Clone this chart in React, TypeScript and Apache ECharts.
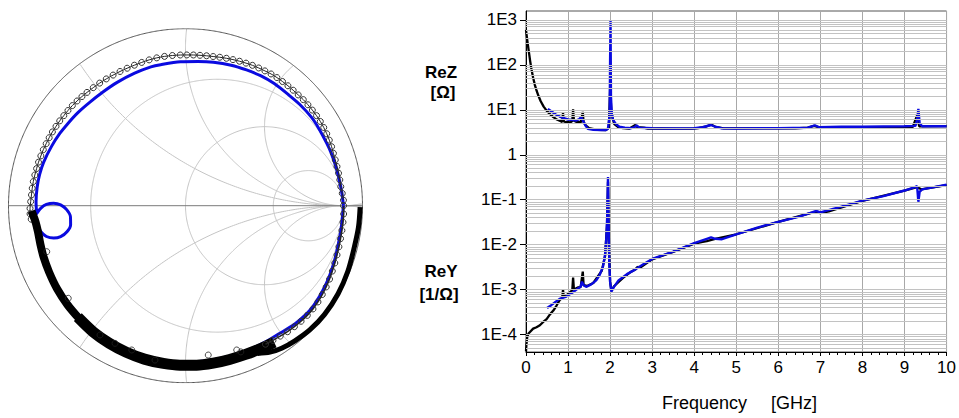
import React, { useEffect, useRef } from "react";
import * as echarts from "echarts";

// ---------------- Right chart data (frequency in GHz, values linear) ----------------
const reZBlackF = [0.0, 0.02, 0.04, 0.07, 0.1, 0.13, 0.17, 0.21, 0.25, 0.3, 0.35, 0.42, 0.49, 0.57, 0.65, 0.72, 0.8, 0.86, 0.88, 0.9, 0.95, 1.0, 1.05, 1.1, 1.12, 1.14, 1.2, 1.26, 1.3, 1.35, 1.37, 1.42, 1.5, 1.7, 1.9, 1.97, 2.0, 2.03, 2.06, 2.1, 2.2, 2.3, 2.45, 2.6, 2.65, 2.8, 2.9, 3.2, 3.6, 3.95, 4.1, 4.3, 4.4, 4.5, 4.7, 5.5, 6.4, 6.7, 6.85, 7.0, 7.5, 7.6, 8.2, 8.45, 8.75, 9.2, 9.3, 9.35, 10.0];
const reZBlackV = [600, 420, 300, 190, 120, 80, 52, 36, 27, 20, 15.5, 11.8, 9.6, 8.0, 6.9, 6.2, 5.7, 5.4, 8.6, 5.5, 5.3, 5.4, 5.2, 5.6, 10.3, 5.7, 5.4, 5.3, 5.2, 9.0, 5.3, 4.5, 3.9, 3.6, 3.55, 4.0, 30, 9.0, 6.5, 4.8, 4.1, 3.9, 3.8, 4.6, 4.1, 4.0, 3.8, 3.85, 3.8, 3.8, 3.9, 4.3, 4.7, 4.2, 3.85, 3.85, 3.85, 4.0, 4.4, 4.0, 4.1, 3.95, 4.05, 3.95, 4.0, 4.2, 7.5, 4.3, 4.35];

const reZBlueF = [0.52, 0.6, 0.7, 0.8, 0.9, 1.0, 1.12, 1.2, 1.27, 1.31, 1.36, 1.42, 1.47, 1.6, 1.8, 1.9, 1.95, 1.99, 2.0, 2.01, 2.02, 2.04, 2.07, 2.14, 2.22, 2.35, 2.5, 2.58, 2.63, 2.7, 3.0, 3.5, 4.0, 4.2, 4.4, 4.5, 4.65, 5.0, 6.0, 6.7, 6.87, 6.97, 7.5, 8.0, 9.0, 9.26, 9.3, 9.33, 9.36, 9.42, 10.0];
const reZBlueV = [10.5, 9.3, 8.0, 7.1, 6.5, 6.1, 5.9, 5.8, 6.2, 7.1, 5.6, 4.4, 3.8, 3.6, 3.55, 3.55, 3.8, 8, 130, 1000, 20, 8.3, 6.0, 4.8, 4.2, 4.0, 3.9, 4.1, 4.5, 4.0, 3.9, 3.85, 3.9, 4.1, 4.6, 4.2, 3.9, 3.85, 3.9, 4.0, 4.5, 4.1, 4.2, 4.2, 4.3, 4.4, 6.0, 10.5, 5.0, 4.3, 4.3];

const reYBlackF = [0.0, 0.01, 0.03, 0.06, 0.1, 0.17, 0.25, 0.33, 0.41, 0.49, 0.57, 0.65, 0.72, 0.8, 0.86, 0.88, 0.9, 0.96, 1.05, 1.1, 1.12, 1.14, 1.22, 1.3, 1.35, 1.37, 1.45, 1.6, 1.8, 1.88, 1.93, 1.95, 1.97, 2.0, 2.03, 2.1, 2.3, 2.5, 2.6, 2.65, 2.7, 3.0, 3.5, 4.0, 4.2, 4.3, 4.5, 5.0, 6.0, 6.85, 7.0, 7.2, 8.0, 9.0, 9.3, 9.4, 10.0];
const reYBlackV = [4.2e-5, 6e-5, 8.9e-5, 1.05e-4, 1.15e-4, 1.35e-4, 1.45e-4, 1.6e-4, 1.9e-4, 2.2e-4, 2.8e-4, 3.4e-4, 4.3e-4, 5.8e-4, 6.5e-4, 1.0e-3, 6.8e-4, 7.4e-4, 8.8e-4, 9.5e-4, 1.85e-3, 1.0e-3, 1.1e-3, 1.15e-3, 2.5e-3, 1.25e-3, 1.2e-3, 1.4e-3, 2.6e-3, 5.5e-3, 3e-2, 0.25, 1e-2, 1.5e-3, 9.5e-4, 1.2e-3, 1.8e-3, 2.5e-3, 2.8e-3, 3.2e-3, 3.0e-3, 4.7e-3, 6.9e-3, 1.05e-2, 1.15e-2, 1.2e-2, 1.35e-2, 1.7e-2, 3.2e-2, 5.3e-2, 5.0e-2, 5.5e-2, 9.4e-2, 0.16, 0.19, 0.17, 0.21];

const reYBlueF = [0.5, 0.6, 0.7, 0.8, 0.96, 1.1, 1.2, 1.3, 1.33, 1.37, 1.43, 1.55, 1.67, 1.75, 1.83, 1.88, 1.91, 1.93, 1.95, 1.96, 1.98, 2.0, 2.03, 2.08, 2.2, 2.4, 2.54, 2.8, 3.0, 3.5, 4.0, 4.3, 4.4, 4.5, 4.66, 5.0, 5.5, 6.0, 6.5, 6.8, 6.9, 7.0, 7.5, 8.0, 8.5, 9.0, 9.25, 9.3, 9.33, 9.36, 9.42, 9.7, 10.0];
const reYBlueV = [3.9e-4, 4.5e-4, 5.3e-4, 6.2e-4, 7.0e-4, 8.5e-4, 1.0e-3, 1.15e-3, 1.5e-3, 1.25e-3, 1.15e-3, 1.3e-3, 1.6e-3, 2.1e-3, 3.2e-3, 6e-3, 1.4e-2, 4e-2, 0.32, 0.05, 4e-3, 1.5e-3, 9e-4, 1.1e-3, 1.6e-3, 2.2e-3, 2.6e-3, 3.7e-3, 4.8e-3, 7.0e-3, 1.08e-2, 1.35e-2, 1.45e-2, 1.35e-2, 1.32e-2, 1.7e-2, 2.4e-2, 3.2e-2, 4.2e-2, 5.2e-2, 5.6e-2, 5.2e-2, 7.0e-2, 9.5e-2, 0.12, 0.16, 0.19, 0.2, 0.09, 0.15, 0.17, 0.19, 0.215];

const xTicks = [0, 1, 2, 3, 4, 5, 6, 7, 8, 9, 10];
const decadeExps = [-4, -3, -2, -1, 0, 1, 2, 3];
const decadeLabels = ["1E-4", "1E-3", "1E-2", "1E-1", "1", "1E1", "1E2", "1E3"];

// ---------------- Smith chart data (angle in degrees, |Gamma|) ----------------
const blackTopArc: [number, number][] = [
  [2, 1.0], [4.5, 0.995], [7, 0.99], [9.5, 0.99], [12, 0.99], [14.5, 0.99], [17, 0.991], [19.5, 0.993], [22, 0.997], [24.5, 1.0],
  [27, 1.003], [29.5, 1.005], [32, 1.006], [34.5, 1.006], [37, 1.005], [39.5, 1.004], [42, 1.003], [44.5, 1.0], [47, 0.999], [49.5, 0.998],
  [52, 0.997], [54.5, 0.996], [57, 0.994], [59.5, 0.99], [62, 0.987], [64.5, 0.984], [67, 0.98], [69.5, 0.976], [72, 0.972], [74.5, 0.968],
  [77, 0.964], [79.5, 0.96], [82, 0.958], [84.5, 0.956], [87, 0.955], [89.5, 0.954], [92, 0.954], [95, 0.954], [98, 0.954], [101, 0.953],
  [104, 0.951], [107, 0.948], [110, 0.946], [113, 0.945], [116, 0.945], [119, 0.945], [122, 0.946], [125, 0.947], [128, 0.948], [131, 0.95],
  [133.5, 0.952], [136, 0.954], [138.5, 0.956], [141, 0.957], [143.5, 0.958], [146, 0.96], [148.5, 0.961], [151, 0.963], [153.5, 0.964], [156, 0.965],
  [158.5, 0.967], [161, 0.968], [163.5, 0.97], [166, 0.971], [168.5, 0.973], [171, 0.975], [173.5, 0.976], [176, 0.977], [178.5, 0.98], [181, 0.984],
  [183, 0.985], [185, 0.98]
];
const blackBandLeft: [number, number][] = [
  [182, 0.975], [186, 0.955], [190, 0.948], [195, 0.95], [200, 0.955], [206, 0.96], [213, 0.968], [220, 0.975], [227, 0.982]
];
const blackBandBottom: [number, number][] = [
  [226, 0.981], [234, 0.99], [241, 0.995], [248, 1.0], [255, 1.005], [262, 1.008], [268, 1.01], [274, 1.012], [280, 1.012], [286, 1.012],
  [292, 1.015], [298, 1.022], [303, 1.03]
];
const blackBandOuter: [number, number][] = [
  [296, 1.04], [300, 1.07], [304, 1.088], [309, 1.1], [315, 1.112], [322, 1.117], [330, 1.115], [338, 1.108], [346, 1.1], [353, 1.103], [359.5, 1.105]
];
const blackInnerRight: [number, number][] = [
  [300, 1.012], [303, 1.016], [306, 1.02], [309, 1.026], [312, 1.03], [315, 1.034], [318, 1.037], [321, 1.038], [324, 1.036], [327, 1.032],
  [330, 1.028], [333, 1.023], [336, 1.017], [339, 1.012], [342, 1.008], [345, 1.005], [348, 1.003], [351, 1.002], [354, 1.002], [357, 1.002], [360, 1.0]
];
const blackOutliers: [number, number][] = [
  [-0.878, -0.291], [-0.742, -0.586], [-0.541, -0.818], [-0.446, -0.871], [-0.34, -0.913], [-0.193, -0.977], [0.144, -0.945], [0.324, -0.913], [0.35, -0.925]
];
const blueTop: [number, number][] = [
  [0, 1.0], [5, 0.992], [10, 0.986], [14.5, 0.983], [20, 0.98], [24, 0.977], [30, 0.975], [35, 0.974], [41.5, 0.966], [47, 0.958],
  [54, 0.955], [60, 0.95], [65.8, 0.942], [72, 0.935], [79, 0.925], [85, 0.916], [92, 0.911], [100, 0.906], [104, 0.905], [111, 0.898],
  [119, 0.892], [126, 0.889], [133, 0.892], [139, 0.9], [145, 0.908], [150, 0.917], [156, 0.927], [163, 0.939], [168, 0.944], [173, 0.946],
  [178.5, 0.946], [183, 0.943]
];
// small resonance loop, Gamma re/im
const blueLoop: [number, number][] = [
  [-0.94, -0.05], [-0.915, -0.015], [-0.88, 0.008], [-0.834, 0.016], [-0.79, 0.005], [-0.752, -0.025], [-0.728, -0.07], [-0.727, -0.12],
  [-0.75, -0.165], [-0.79, -0.196], [-0.834, -0.205], [-0.88, -0.195], [-0.915, -0.165], [-0.937, -0.125], [-0.942, -0.1]
];
const blueBottom: [number, number][] = [
  [188, 0.945], [196, 0.945], [205, 0.952], [214, 0.958], [223, 0.965], [232, 0.972], [241, 0.978], [250, 0.982], [259, 0.986], [268, 0.99],
  [277, 0.99], [286, 0.993], [295, 0.997], [301, 1.0], [306.5, 1.004], [313.5, 1.02], [321.5, 1.028], [331, 1.018], [339, 1.006], [346, 0.997],
  [353, 0.995], [359, 0.998]
];

// Smith grid (chart furniture)
const R_OUT = 1.12;
const rCircles = [0.25, 1, 3.5];
const xArcs = [0.5, 1, 2, -0.5, -1, -2];

const BLUE = "#0a0ae0";
const FONT = "'Liberation Sans', Arial, sans-serif";

function polarPts(list: [number, number][]) {
  return list.map(([a, r]) => [r * Math.cos((a * Math.PI) / 180), r * Math.sin((a * Math.PI) / 180)]);
}

function circleSegments(cx: number, cy: number, rad: number, lim: number) {
  const segs: number[][][] = [];
  let cur: number[][] = [];
  const N = 900;
  for (let i = 0; i <= N; i++) {
    const t = (i / N) * 2 * Math.PI;
    const x = cx + rad * Math.cos(t);
    const y = cy + rad * Math.sin(t);
    if (x * x + y * y <= lim * lim + 1e-6) cur.push([x, y]);
    else {
      if (cur.length > 1) segs.push(cur);
      cur = [];
    }
  }
  if (cur.length > 1) segs.push(cur);
  return segs;
}

function buildOption() {
  const series: any[] = [];
  const gridLine = (data: number[][], color: string, width = 1) => ({
    type: "line",
    xAxisIndex: 0,
    yAxisIndex: 0,
    data,
    showSymbol: false,
    silent: true,
    z: 1,
    lineStyle: { color, width },
  });
  rCircles.forEach((r) => {
    circleSegments(r / (1 + r), 0, 1 / (1 + r), R_OUT).forEach((s) => series.push(gridLine(s, "#c4c4c4")));
  });
  xArcs.forEach((x) => {
    circleSegments(1, 1 / x, Math.abs(1 / x), R_OUT).forEach((s) => series.push(gridLine(s, "#c4c4c4")));
  });
  series.push(gridLine([[-R_OUT, 0], [R_OUT, 0]], "#7a7a7a"));
  series.push(gridLine(circleSegments(0, 0, R_OUT, R_OUT + 0.001)[0], "#555555"));

  const smithLine = (data: number[][], color: string, width: number, z: number, sym = false) => ({
    type: "line",
    xAxisIndex: 0,
    yAxisIndex: 0,
    data,
    silent: true,
    z,
    smooth: 0.3,
    showSymbol: sym,
    symbol: "circle",
    symbolSize: 6,
    itemStyle: { color: "rgba(255,255,255,0)", borderColor: "#333", borderWidth: 1 },
    lineStyle: { color, width },
  });
  series.push(smithLine([...polarPts(blueTop), ...blueLoop, ...polarPts(blueBottom), [1.0, 0]], BLUE, 3, 3));
  series.push(smithLine(polarPts(blackTopArc), "#222", 1, 4, true));
  series.push(smithLine(polarPts(blackBandLeft), "#000", 8, 5));
  series.push(smithLine(polarPts(blackBandBottom), "#000", 11, 5));
  series.push(smithLine(polarPts(blackBandOuter), "#000", 5, 5));
  series.push(smithLine(polarPts(blackInnerRight), "#222", 1.5, 5, true));
  series.push({
    type: "scatter",
    xAxisIndex: 0,
    yAxisIndex: 0,
    data: blackOutliers,
    symbol: "circle",
    symbolSize: 6,
    silent: true,
    z: 5,
    itemStyle: { color: "rgba(255,255,255,0)", borderColor: "#222", borderWidth: 1 },
  });

  // right chart
  const minorVals: number[] = [];
  for (let n = -5; n <= 3; n++) {
    for (let k = 1; k <= 9; k++) {
      const v = n + Math.log10(k);
      if (v > -4.39 && v < 3.2) minorVals.push(v);
    }
  }
  series.push({
    type: "line",
    xAxisIndex: 1,
    yAxisIndex: 1,
    data: [[0, -10]],
    showSymbol: false,
    silent: true,
    z: 1,
    markLine: {
      silent: true,
      symbol: ["none", "none"],
      label: { show: false },
      lineStyle: { color: "#c2c2c2", type: "solid", width: 1 },
      data: minorVals.map((v) => ({ yAxis: v })),
      animation: false,
    },
  });
  const rightLine = (f: number[], v: number[], color: string, width: number, z: number) => ({
    type: "line",
    xAxisIndex: 1,
    yAxisIndex: 1,
    data: f.map((x, i) => [x, Math.log10(v[i])]),
    showSymbol: false,
    silent: true,
    z,
    lineStyle: { color, width },
  });
  series.push(rightLine(reZBlackF, reZBlackV, "#000", 2.3, 3));
  series.push(rightLine(reYBlackF, reYBlackV, "#000", 2.3, 3));
  series.push(rightLine(reZBlueF, reZBlueV, BLUE, 2.4, 4));
  series.push(rightLine(reYBlueF, reYBlueV, BLUE, 2.4, 4));

  const label = (text: string, x: number, y: number, size: number, bold = true) => ({
    type: "text",
    x,
    y,
    silent: true,
    style: {
      text,
      font: `${bold ? "bold " : ""}${size}px ${FONT}`,
      fill: "#000",
      textAlign: "center",
      textVerticalAlign: "middle",
    },
  });

  return {
    animation: false,
    backgroundColor: "#ffffff",
    grid: [
      { left: 8.5, top: 28.7, width: 354, height: 354, show: false },
      { left: 526, top: 11, width: 423, height: 341, show: true, borderColor: "#555", borderWidth: 1, backgroundColor: "transparent" },
    ],
    xAxis: [
      { type: "value", gridIndex: 0, min: -R_OUT, max: R_OUT, show: false },
      {
        type: "value",
        gridIndex: 1,
        min: xTicks[0],
        max: xTicks[xTicks.length - 1],
        interval: 1,
        axisLine: { show: true, onZero: false, lineStyle: { color: "#000", width: 1 } },
        axisTick: { show: true, length: 4, lineStyle: { color: "#000" } },
        minorTick: { show: true, splitNumber: 5, length: 3, lineStyle: { color: "#000" } },
        splitLine: { show: true, lineStyle: { color: "#a8a8a8", width: 1 } },
        axisLabel: { color: "#000", fontSize: 17, fontFamily: FONT, margin: 7 },
      },
    ],
    yAxis: [
      { type: "value", gridIndex: 0, min: -R_OUT, max: R_OUT, show: false },
      {
        type: "value",
        gridIndex: 1,
        min: -4.39,
        max: 3.2,
        axisLine: { show: true, onZero: false, lineStyle: { color: "#000", width: 1 } },
        axisTick: { show: true, length: 6, customValues: decadeExps, lineStyle: { color: "#000" } },
        splitLine: { show: false },
        axisLabel: {
          customValues: decadeExps,
          color: "#000",
          fontSize: 17,
          fontFamily: FONT,
          margin: 9,
          formatter: (v: number) => {
            const i = decadeExps.indexOf(Math.round(v));
            return i >= 0 ? decadeLabels[i] : "";
          },
        },
      },
    ],
    graphic: [
      label("ReZ", 441, 72, 17),
      label("[Ω]", 443, 92, 17),
      label("ReY", 441, 271, 17),
      label("[1/Ω]", 439, 294, 17),
      { type: "text", left: 662, top: 394, style: { text: "Frequency", font: `18px ${FONT}`, fill: "#000" } },
      { type: "text", left: 771, top: 394, style: { text: "[GHz]", font: `18px ${FONT}`, fill: "#000" } },
    ],
    series,
  };
}

export default function App() {
  const ref = useRef<HTMLDivElement>(null);
  useEffect(() => {
    if (!ref.current) return;
    const chart = echarts.init(ref.current, null, { renderer: "svg" });
    chart.setOption(buildOption() as any);
    return () => chart.dispose();
  }, []);
  return (
    <div
      ref={ref}
      style={{ position: "fixed", left: 0, top: 0, width: 959, height: 418, background: "#fff" }}
    />
  );
}
